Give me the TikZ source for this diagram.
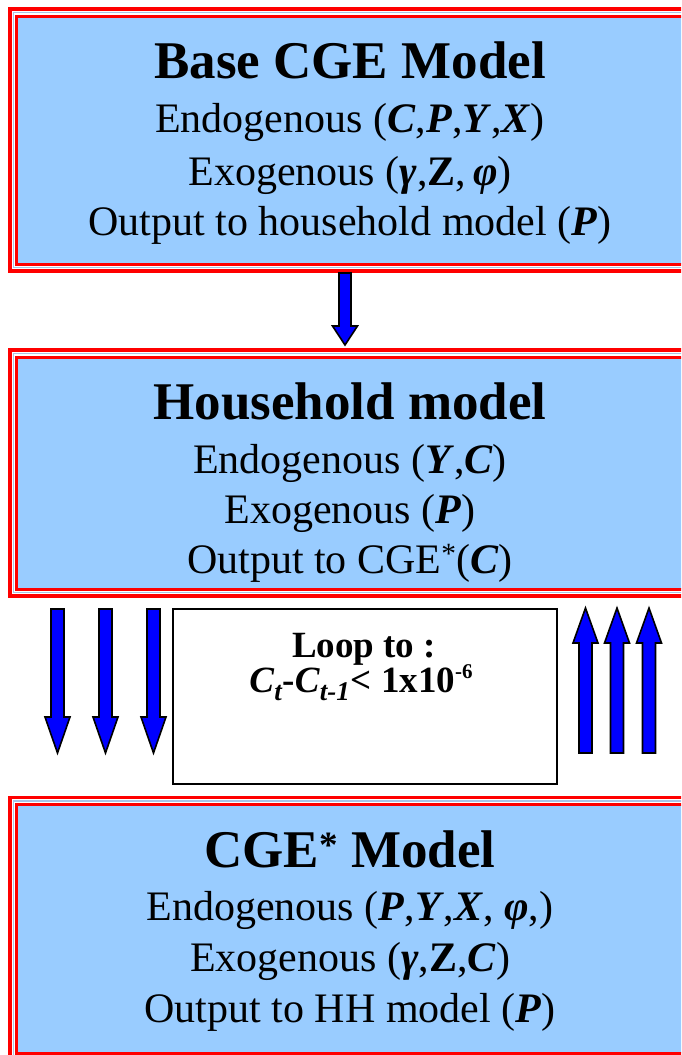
\documentclass[tikz,border=0pt]{standalone}
\usepackage{fontspec}
\setmainfont{Liberation Serif}
\definecolor{boxfill}{HTML}{99CCFF}
\definecolor{framered}{HTML}{FF0000}
\definecolor{frameline}{HTML}{A8C4E8}
\definecolor{arrowblue}{HTML}{0000FF}
\tikzset{
  titletext/.style={anchor=base, inner sep=0pt, font=\fontsize{53}{60}\selectfont\bfseries},
  bodytext/.style={anchor=base, inner sep=0pt, font=\fontsize{42}{48}\selectfont},
  looptext/.style={anchor=base, inner sep=0pt, font=\fontsize{37}{40}\selectfont\bfseries},
  blockarrow/.style={fill=arrowblue, draw=black, line width=1.6pt, line join=miter},
  outerred/.style={draw=framered, line width=3.5pt},
  midline/.style={draw=frameline, line width=1.5pt},
  innerred/.style={draw=framered, line width=3pt, fill=boxfill},
}
\newcommand\bi[1]{\textbf{\textit{#1}}}
\begin{document}
\begin{tikzpicture}[x=1pt,y=-1pt]
\useasboundingbox (0,0) rectangle (681,1055);
\clip (0,0) rectangle (681,1055);
% ---- frames
% box 1
\draw[outerred] (10,9) rectangle (720,271);
\draw[midline] (13.5,12.5) rectangle (716,267.5);
\draw[innerred] (16.5,16) rectangle (713,264);
\node[inner sep=0pt, minimum size=0pt] (box1) at (350,140) {};
% box 2
\draw[outerred] (10,350) rectangle (720,596);
\draw[midline] (13.5,353.5) rectangle (716,592.5);
\draw[innerred] (16.5,357) rectangle (713,589);
\node[inner sep=0pt, minimum size=0pt] (box2) at (350,472) {};
% box 3
\draw[outerred] (10,797.5) rectangle (720,1062);
\draw[midline] (13.5,801) rectangle (716,1058);
\draw[innerred] (16.5,804.5) rectangle (713,1053);
\node[inner sep=0pt, minimum size=0pt] (box3) at (350,930) {};
% loop box
\draw[black, line width=1.5pt] (173,609) rectangle (557,784);
\node[inner sep=0pt, minimum size=0pt] (loop) at (365,696) {};

% ---- texts box 1
\node[titletext] (t1) at (350,78) {Base CGE Model};
\node[bodytext] (t1a) at (350,132) {Endogenous (\bi{C},\bi{P},\bi{Y},\bi{X})};
\node[bodytext] (t1b) at (350,185) {Exogenous (\bi{γ},\textbf{Z},\,\bi{φ})};
\node[bodytext] (t1c) at (350,235) {Output to household model (\bi{P})};
% ---- texts box 2
\node[titletext] (t2) at (350,419) {Household model};
\node[bodytext] (t2a) at (350,473) {Endogenous (\bi{Y},\bi{C})};
\node[bodytext] (t2b) at (350,523) {Exogenous (\bi{P})};
\node[bodytext] (t2c) at (350,573) {Output to CGE\textsuperscript{*}(\bi{C})};
% ---- texts box 3
\node[titletext] (t3) at (350,867) {CGE\textsuperscript{*} Model};
\node[bodytext] (t3a) at (350,920) {Endogenous (\bi{P},\bi{Y},\bi{X}, \bi{φ},)};
\node[bodytext] (t3b) at (350,971) {Exogenous (\bi{γ},\textbf{Z},\bi{C})};
\node[bodytext] (t3c) at (350,1022) {Output to HH model (\bi{P})};
% ---- loop text
\node[looptext] (l1) at (364,657) {Loop to :};
\node[looptext] (l2) at (361,692) {\bi{C}\raisebox{-8pt}{\fontsize{27}{27}\selectfont\bi{t}}-\bi{C}\raisebox{-8pt}{\fontsize{27}{27}\selectfont\bi{t-1}}\kern1pt< 1x10\raisebox{14pt}{\fontsize{21}{21}\selectfont\textbf{-6}}};

% ---- block arrows
% box1 -> box2
\draw[blockarrow] (339,273) -- (351,273) -- (351,326) -- (357.5,326) -- (345,345) -- (332.5,326) -- (339,326) -- cycle;
% down arrows (box2 -> box3)
\foreach \c in {57.5,105.5,153.5}{
  \draw[blockarrow] (\c-6.5,609) -- (\c+6.5,609) -- (\c+6.5,717) -- (\c+12.5,717) -- (\c,753) -- (\c-12.5,717) -- (\c-6.5,717) -- cycle;
}
% up arrows (box3 -> box2)
\foreach \c in {585.5,617,649}{
  \draw[blockarrow] (\c-6.5,753) -- (\c+6.5,753) -- (\c+6.5,643) -- (\c+12.5,643) -- (\c,608) -- (\c-12.5,643) -- (\c-6.5,643) -- cycle;
}
\end{tikzpicture}
\end{document}
